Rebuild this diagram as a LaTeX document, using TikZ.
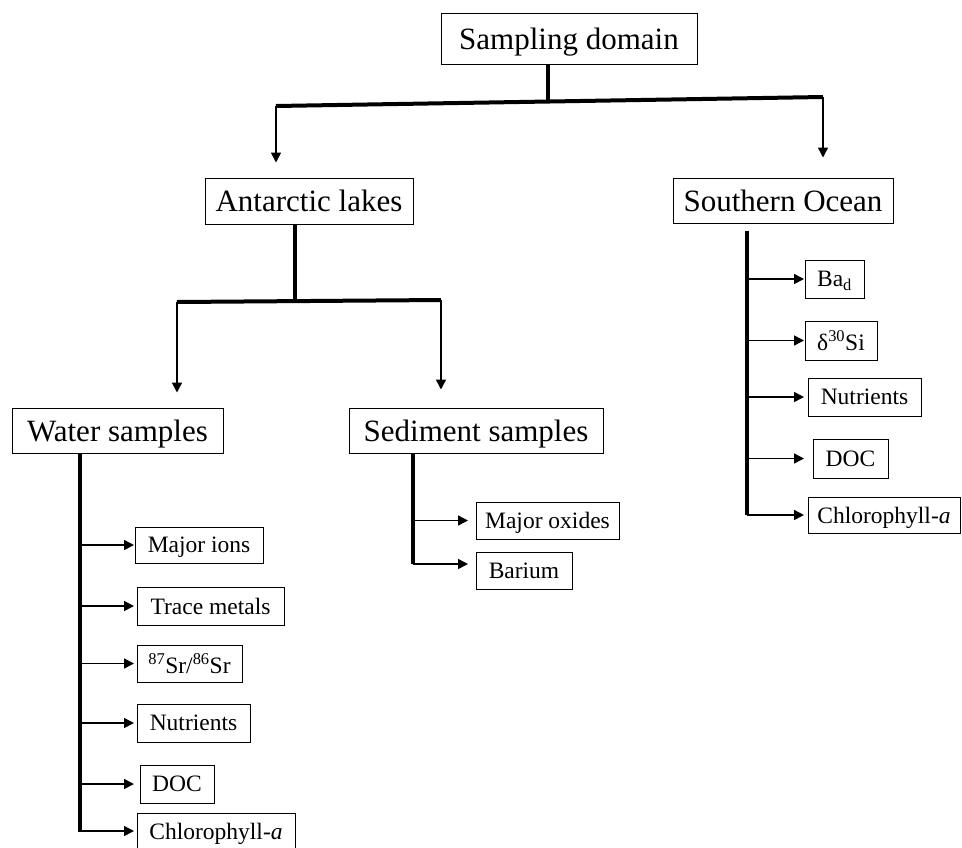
\documentclass[tikz,border=0pt]{standalone}
\usepackage{fontspec}
\setmainfont{Liberation Serif}
\usepackage{tikz}
\usetikzlibrary{arrows.meta}

\begin{document}
\begin{tikzpicture}[x=1pt,y=-1pt,>={Triangle[length=10pt,width=10pt]},
  bigbox/.style={draw,line width=1pt,inner sep=0pt,text depth=0pt,font=\fontsize{31}{36}\selectfont},
  smallbox/.style={draw,line width=1pt,inner sep=0pt,text depth=0pt,font=\fontsize{23.5}{28}\selectfont},
  trunk/.style={line width=4pt},
  arr/.style={->,line width=1.5pt}]
\useasboundingbox (0,0) rectangle (962,847);
\node[bigbox,minimum width=256pt,minimum height=51pt] (domain) at (569,38.5) {Sampling domain};
\node[bigbox,minimum width=208pt,minimum height=46pt] (lakes) at (309,201) {Antarctic lakes};
\node[bigbox,minimum width=220pt,minimum height=45pt] (ocean) at (783,200.5) {Southern Ocean};
\node[bigbox,minimum width=211pt,minimum height=45pt] (water) at (117.5,430.5) {Water samples};
\node[bigbox,minimum width=254pt,minimum height=45pt] (sediment) at (476,430.5) {Sediment samples};
\node[smallbox,minimum width=128pt,minimum height=36pt] (ions) at (199,545) {Major ions};
\node[smallbox,minimum width=147pt,minimum height=38pt] (trace) at (210.5,606) {Trace metals};
\node[smallbox,minimum width=105pt,minimum height=37pt] (sr) at (189.5,663.5) {\textsuperscript{87}Sr/\textsuperscript{86}Sr};
\node[smallbox,minimum width=113pt,minimum height=38pt] (wnutr) at (193.5,723) {Nutrients};
\node[smallbox,minimum width=74pt,minimum height=38pt] (wdoc) at (177,784) {DOC};
\node[smallbox,minimum width=158pt,minimum height=36pt] (wchl) at (216,831) {Chlorophyll-\textit{a}};
\node[smallbox,minimum width=143pt,minimum height=37pt] (oxides) at (547.5,520.5) {Major oxides};
\node[smallbox,minimum width=96pt,minimum height=37pt] (barium) at (524,571) {Barium};
\node[smallbox,minimum width=59pt,minimum height=38pt] (bad) at (834.5,279) {Ba\textsubscript{d}};
\node[smallbox,minimum width=72pt,minimum height=39pt] (dsi) at (841,340.5) {δ\textsuperscript{30}Si};
\node[smallbox,minimum width=113pt,minimum height=38pt] (onutr) at (864.5,397) {Nutrients};
\node[smallbox,minimum width=75pt,minimum height=39pt] (odoc) at (850.5,458.5) {DOC};
\node[smallbox,minimum width=152pt,minimum height=36pt] (ochl) at (884,515) {Chlorophyll-\textit{a}};
\coordinate (jtop) at (548,101.5);
\coordinate (barL) at (276,106);
\coordinate (barR) at (823,97);
\draw[trunk] (domain.south -| jtop) -- (jtop);
\draw[trunk] (barL) -- (barR);
\draw[arr,shorten >=15pt] (barL) -- (lakes.north -| barL);
\draw[arr,shorten >=20pt] (barR) -- (ocean.north -| barR);
\coordinate (jlakes) at (295,301);
\coordinate (lbarL) at (177,302);
\coordinate (lbarR) at (441,300);
\draw[trunk] (lakes.south -| jlakes) -- (jlakes);
\draw[trunk] (lbarL) -- (lbarR);
\draw[arr,shorten >=15pt] (lbarL) -- (water.north -| lbarL);
\draw[arr,shorten >=18pt] (lbarR) -- (sediment.north -| lbarR);
\coordinate (wend) at (80,832);
\coordinate (wtip) at (134,0);
\draw[trunk] (water.south -| wend) -- (wend);
\foreach \n in {ions,trace,sr,wnutr,wdoc,wchl}
  \draw[arr] (wend |- \n.west) -- (wtip |- \n.west);
\coordinate (send) at (413,564);
\coordinate (stip) at (468,0);
\draw[trunk] (sediment.south -| send) -- (send);
\draw[arr] (send |- oxides.west) -- (stip |- oxides.west);
\draw[arr] (send) -- (stip |- send);
\coordinate (oend) at (747,515);
\coordinate (otip) at (804,0);
\draw[trunk,shorten <=7pt] (ocean.south -| oend) -- (oend);
\foreach \n in {bad,dsi,onutr,odoc,ochl}
  \draw[arr] (oend |- \n.west) -- (otip |- \n.west);
\end{tikzpicture}
\end{document}
